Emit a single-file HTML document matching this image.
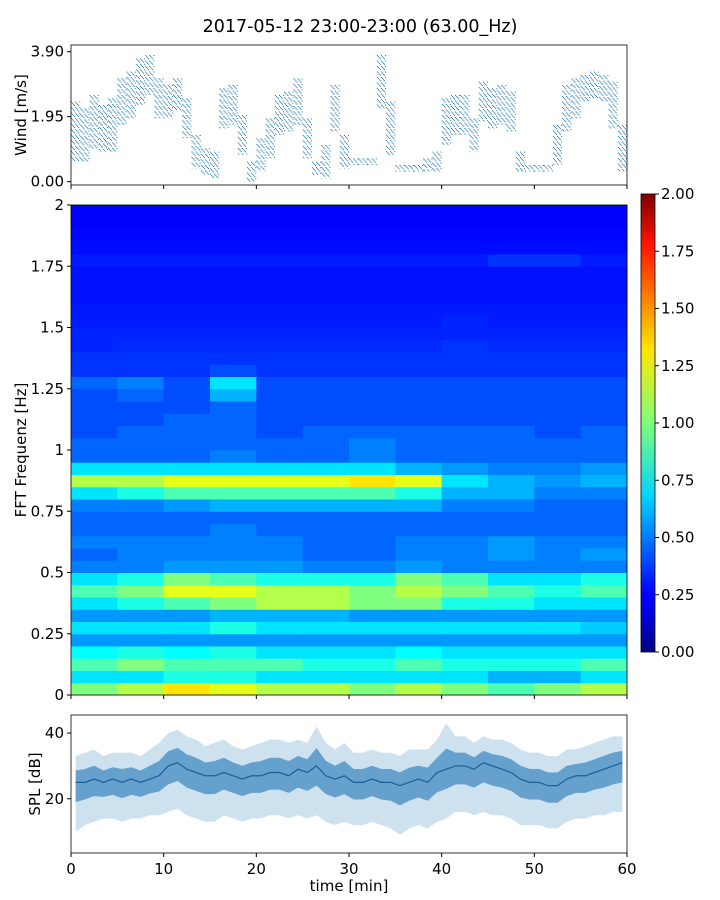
<!DOCTYPE html>
<html><head><meta charset="utf-8">
<style>
html,body{margin:0;padding:0;background:#fff;}
svg{display:block;font-family:"DejaVu Sans","Liberation Sans",sans-serif;}
</style></head>
<body>
<svg id="fig" width="720" height="900" viewBox="0 0 720 900">
<defs>
<linearGradient id="jetGrad" x1="0" y1="1" x2="0" y2="0">
<stop offset="0" stop-color="#000080"/><stop offset="0.11" stop-color="#0000ff"/>
<stop offset="0.125" stop-color="#0000ff"/><stop offset="0.34" stop-color="#00d4ff"/>
<stop offset="0.5" stop-color="#7dff7a"/><stop offset="0.66" stop-color="#ffe600"/>
<stop offset="0.89" stop-color="#ff1300"/><stop offset="1" stop-color="#800000"/>
</linearGradient>
<clipPath id="clipW"><rect x="71" y="45" width="556" height="140"/></clipPath>
<clipPath id="clipS"><rect x="71" y="715" width="556" height="138"/></clipPath>
</defs>
<text x="360" y="32" text-anchor="middle" font-size="17.5">2017-05-12 23:00-23:00 (63.00_Hz)</text>
<g id="wind"></g>
<g id="spec"></g>
<g id="cbar"></g>
<g id="spl"></g>
</svg>
<script>
// ---- data ----
const windMinutes = [0,1,2,3,4,5,6,7,8,9,10,11,12,13,14,15,16,17,18,19,20,21,22,23,24,25,26,27,28,29,30,31,32,33,34,35,36,37,38,39,40,41,42,43,44,45,46,47,48,49,50,51,52,53,54,55,56,57,58,59];
const windCenter = [1.5,1.4,1.8,1.6,1.7,2.4,2.6,3.0,3.2,2.5,2.4,2.6,1.9,0.9,0.6,0.5,2.2,2.3,1.4,0.3,0.8,1.3,2.0,2.1,2.4,1.3,0.4,0.6,2.2,0.9,0.6,0.6,0.6,3.0,1.6,0.4,0.4,0.4,0.5,0.6,1.8,2.0,2.0,1.4,2.4,2.2,2.3,2.1,0.6,0.4,0.4,0.4,1.1,2.2,2.5,2.8,2.9,2.8,2.3,1.0];
const windSpread = [0.9,0.8,0.8,0.7,0.8,0.7,0.7,0.7,0.6,0.6,0.5,0.5,0.6,0.5,0.4,0.4,0.6,0.6,0.6,0.3,0.5,0.6,0.6,0.6,0.7,0.6,0.2,0.5,0.7,0.5,0.1,0.1,0.1,0.8,0.8,0.1,0.1,0.1,0.2,0.3,0.7,0.6,0.6,0.5,0.6,0.6,0.6,0.6,0.3,0.1,0.1,0.1,0.6,0.7,0.6,0.4,0.4,0.4,0.7,0.7];
const windTicks = [0.00,1.95,3.90];

const freqBins = [0,0.05,0.1,0.15,0.2,0.25,0.3,0.35,0.4,0.45,0.5,0.55,0.6,0.65,0.7,0.75,0.8,0.85,0.9,0.95,1.0,1.05,1.1,1.15,1.2,1.25,1.3,1.35,1.4,1.45,1.5,1.55,1.6,1.65,1.7,1.75,1.8,1.85,1.9,1.95];
const timeBins = [0,5,10,15,20,25,30,35,40,45,50,55];
const specValues = [
[1.0,1.1,1.3,1.2,1.1,1.1,1.0,1.1,1.0,0.9,1.0,1.1],
[0.7,0.7,0.8,0.8,0.7,0.7,0.7,0.7,0.7,0.6,0.6,0.7],
[0.9,1.0,0.9,0.9,0.9,0.8,0.8,0.9,0.8,0.8,0.8,0.9],
[0.75,0.8,0.75,0.8,0.7,0.7,0.7,0.75,0.7,0.7,0.7,0.7],
[0.55,0.55,0.55,0.55,0.55,0.55,0.55,0.55,0.55,0.55,0.55,0.55],
[0.7,0.7,0.7,0.8,0.7,0.7,0.7,0.7,0.7,0.7,0.7,0.65],
[0.55,0.55,0.55,0.6,0.6,0.6,0.55,0.55,0.55,0.55,0.55,0.55],
[0.7,0.8,0.9,1.0,1.1,1.1,1.0,1.0,0.8,0.8,0.7,0.7],
[0.9,1.0,1.2,1.2,1.1,1.1,1.0,1.1,1.0,0.9,0.8,0.9],
[0.7,0.8,1.0,0.9,0.8,0.8,0.8,1.0,0.9,0.7,0.7,0.8],
[0.5,0.5,0.55,0.55,0.55,0.5,0.5,0.55,0.5,0.5,0.5,0.5],
[0.45,0.5,0.5,0.5,0.5,0.45,0.45,0.5,0.5,0.55,0.5,0.55],
[0.5,0.5,0.5,0.5,0.5,0.45,0.45,0.5,0.5,0.55,0.5,0.5],
[0.45,0.45,0.45,0.5,0.45,0.45,0.45,0.45,0.45,0.45,0.45,0.45],
[0.45,0.45,0.45,0.45,0.45,0.45,0.45,0.45,0.45,0.45,0.45,0.45],
[0.5,0.5,0.55,0.6,0.6,0.6,0.6,0.6,0.5,0.5,0.45,0.45],
[0.7,0.8,0.9,0.9,0.9,0.9,0.9,0.8,0.6,0.6,0.5,0.5],
[1.1,1.1,1.2,1.2,1.2,1.2,1.3,1.2,0.7,0.6,0.55,0.6],
[0.7,0.7,0.7,0.7,0.7,0.7,0.7,0.6,0.55,0.5,0.5,0.55],
[0.45,0.45,0.45,0.5,0.45,0.45,0.5,0.45,0.45,0.45,0.45,0.45],
[0.45,0.45,0.45,0.45,0.45,0.45,0.5,0.45,0.45,0.45,0.45,0.45],
[0.4,0.45,0.45,0.45,0.4,0.45,0.45,0.45,0.45,0.45,0.4,0.45],
[0.4,0.4,0.45,0.45,0.4,0.4,0.4,0.4,0.4,0.4,0.4,0.4],
[0.4,0.4,0.4,0.45,0.4,0.4,0.4,0.4,0.4,0.4,0.4,0.4],
[0.4,0.45,0.4,0.6,0.4,0.4,0.4,0.4,0.4,0.4,0.4,0.4],
[0.45,0.5,0.4,0.7,0.4,0.4,0.4,0.4,0.4,0.4,0.4,0.4],
[0.35,0.35,0.35,0.4,0.35,0.35,0.35,0.35,0.35,0.35,0.35,0.35],
[0.35,0.35,0.35,0.35,0.35,0.35,0.35,0.35,0.35,0.35,0.35,0.35],
[0.32,0.33,0.33,0.33,0.33,0.33,0.33,0.33,0.35,0.33,0.33,0.33],
[0.32,0.32,0.32,0.32,0.32,0.32,0.32,0.32,0.32,0.32,0.32,0.32],
[0.3,0.3,0.3,0.3,0.3,0.3,0.3,0.3,0.32,0.3,0.3,0.3],
[0.3,0.3,0.3,0.3,0.3,0.3,0.3,0.3,0.3,0.3,0.3,0.3],
[0.28,0.28,0.28,0.28,0.28,0.28,0.28,0.28,0.28,0.28,0.28,0.28],
[0.28,0.28,0.28,0.28,0.28,0.28,0.28,0.28,0.28,0.28,0.28,0.28],
[0.28,0.28,0.28,0.28,0.28,0.28,0.28,0.28,0.28,0.28,0.28,0.28],
[0.3,0.3,0.3,0.3,0.3,0.3,0.3,0.3,0.3,0.35,0.35,0.3],
[0.27,0.27,0.27,0.27,0.27,0.27,0.27,0.27,0.27,0.27,0.27,0.27],
[0.26,0.26,0.26,0.26,0.26,0.26,0.26,0.26,0.26,0.26,0.26,0.26],
[0.25,0.25,0.25,0.25,0.25,0.25,0.25,0.25,0.25,0.25,0.25,0.25],
[0.25,0.25,0.25,0.25,0.25,0.25,0.25,0.25,0.25,0.25,0.25,0.25]
];
const freqTickLabels = ["0","0.25","0.5","0.75","1","1.25","1.5","1.75","2"];
const cbarTickLabels = ["0.00","0.25","0.50","0.75","1.00","1.25","1.50","1.75","2.00"];

const splMinutes = windMinutes;
const splMid  = [25,25,26,25,26,25,26,25,26,27,30,31,29,28,27,27,28,27,26,27,27,28,28,27,29,28,30,27,26,27,25,25,26,25,25,24,25,26,25,28,29,30,30,29,31,30,29,28,26,25,25,24,24,26,27,27,28,29,30,31];
const splLow  = [10,12,13,14,14,13,14,14,15,15,16,17,15,14,13,13,15,14,13,14,14,15,15,14,15,14,15,13,12,13,12,12,13,12,11,9,11,12,11,13,14,16,16,15,16,15,15,14,12,12,12,11,11,13,14,14,15,15,16,16];
const splHigh = [33,34,35,33,34,34,34,33,35,37,40,41,39,38,36,37,38,36,35,36,37,38,38,37,38,37,42,37,35,37,34,34,35,34,34,33,35,35,35,38,43,39,39,37,39,38,38,37,35,34,34,33,33,35,35,36,37,38,39,39];
const splTicks = [20,40];
const timeTicks = [0,10,20,30,40,50,60];

// ---- helpers ----
const NS = "http://www.w3.org/2000/svg";
function mk(parent, tag, attrs, txt){const e=document.createElementNS(NS,tag);for(const k in attrs)e.setAttribute(k,attrs[k]);if(txt!==undefined)e.textContent=txt;parent.appendChild(e);return e;}
const X0=71, X1=627;
const FS=15;
const xT = t => X0 + (t/60)*(X1-X0);
function jet(v){
  let t=Math.max(0,Math.min(1,v/2));
  const f=x=>Math.max(0,Math.min(1,x));
  const r=f(1.5-Math.abs(4*t-3)), g=f(1.5-Math.abs(4*t-2)), b=f(1.5-Math.abs(4*t-1));
  return `rgb(${Math.round(r*255)},${Math.round(g*255)},${Math.round(b*255)})`;
}
function frame(g,x,y,w,h,name){const r=mk(g,'rect',{x:x,y:y,width:w,height:h,fill:'none',stroke:'#000','stroke-width':0.8});}

// ---- wind panel ----
const gw=document.getElementById('wind');
const WY0=185, WY1=45, wMin=-0.1, wMax=4.1;
const yW = v => WY0 - (v-wMin)/(wMax-wMin)*(WY0-WY1);
const gwp=mk(gw,'g',{'clip-path':'url(#clipW)'});
windMinutes.forEach((m,i)=>{
  for(let k=0;k<9;k++){
    const x=xT(m+(k+0.5)/9);
    const off=(k%4)*1.1;
    const ln=mk(gwp,'line',{x1:x,x2:x,y1:yW(windCenter[i]+windSpread[i])+off,y2:yW(windCenter[i]-windSpread[i]),stroke:'#1f77b4','stroke-width':1,'stroke-dasharray':'1 4.5'});
    
    
  }
});
frame(gw,X0,WY1,X1-X0,WY0-WY1,'wind-axes-frame');
windTicks.forEach(v=>{
  mk(gw,'line',{x1:X0-4,x2:X0,y1:yW(v),y2:yW(v),stroke:'#000'});
  const t=mk(gw,'text',{x:X0-7,y:yW(v)+5,'text-anchor':'end','font-size':FS},v.toFixed(2));
  
  
});
timeTicks.forEach(v=>mk(gw,'line',{x1:xT(v),x2:xT(v),y1:WY0,y2:WY0+4,stroke:'#000'}));
const wl=mk(gw,'text',{x:0,y:0,transform:'translate(26,115) rotate(-90)','text-anchor':'middle','font-size':FS},'Wind [m/s]');



// ---- spectrogram ----
const gs=document.getElementById('spec');
const SY0=695, SY1=205;
const yF = f => SY0 - (f/2)*(SY0-SY1);
specValues.forEach((row,ri)=>{
  row.forEach((v,ci)=>{
    const xa=xT(timeBins[ci]), xb=ci+1<timeBins.length?xT(timeBins[ci+1]):X1;
    const fa=freqBins[ri], fb=ri+1<freqBins.length?freqBins[ri+1]:2;
    const c=mk(gs,'rect',{x:xa,y:yF(fb),width:xb-xa+0.5,height:yF(fa)-yF(fb)+0.5,fill:jet(v)});
    
    
  });
});
frame(gs,X0,SY1,X1-X0,SY0-SY1,'spectrogram-axes-frame');
freqTickLabels.forEach((lab,i)=>{
  const y=yF(i*0.25);
  mk(gs,'line',{x1:X0-4,x2:X0,y1:y,y2:y,stroke:'#000'});
  const t=mk(gs,'text',{x:X0-7,y:y+5,'text-anchor':'end','font-size':FS},lab);
  
  
});
timeTicks.forEach(v=>mk(gs,'line',{x1:xT(v),x2:xT(v),y1:SY0,y2:SY0+4,stroke:'#000'}));
const sl=mk(gs,'text',{x:0,y:0,transform:'translate(26,450) rotate(-90)','text-anchor':'middle','font-size':FS},'FFT Frequenz [Hz]');



// ---- colorbar ----
const gc=document.getElementById('cbar');
const CY0=652, CY1=194, CX=641, CW=14;
mk(gc,'rect',{x:CX,y:CY1,width:CW,height:CY0-CY1,fill:'url(#jetGrad)',stroke:'#000','stroke-width':0.8});
cbarTickLabels.forEach((lab,i)=>{
  const y=CY0-(i/8)*(CY0-CY1);
  mk(gc,'line',{x1:CX+CW,x2:CX+CW+4,y1:y,y2:y,stroke:'#000'});
  const t=mk(gc,'text',{x:CX+CW+6,y:y+5,'font-size':FS},lab);
  
  
});

// ---- SPL panel ----
const gp=document.getElementById('spl');
const PY0=853, PY1=715, pMin=3.5, pMax=45.5;
const yP = v => PY0 - (v-pMin)/(pMax-pMin)*(PY0-PY1);
const gpp=mk(gp,'g',{'clip-path':'url(#clipS)'});
function bandPath(hiFn,loFn){
  let a='',b='';
  splMinutes.forEach((m,i)=>{a+=(i?'L':'M')+xT(m+0.5)+','+yP(hiFn(i));});
  for(let i=splMinutes.length-1;i>=0;i--){b+='L'+xT(splMinutes[i]+0.5)+','+yP(loFn(i));}
  return a+b+'Z';
}
const band=mk(gpp,'path',{d:bandPath(i=>splHigh[i],i=>splLow[i]),fill:'#1f77b4','fill-opacity':0.22});


const inner=mk(gpp,'path',{d:bandPath(i=>splMid[i]+(splHigh[i]-splMid[i])*0.45,i=>splMid[i]-(splMid[i]-splLow[i])*0.4),fill:'#1f77b4','fill-opacity':0.6});


let midPath='';
splMinutes.forEach((m,i)=>{midPath+=(i?'L':'M')+xT(m+0.5)+','+yP(splMid[i]);});
const mid=mk(gpp,'path',{d:midPath,fill:'none',stroke:'#1a5f95','stroke-width':1.2});


frame(gp,X0,PY1,X1-X0,PY0-PY1,'spl-axes-frame');
splTicks.forEach(v=>{
  mk(gp,'line',{x1:X0-4,x2:X0,y1:yP(v),y2:yP(v),stroke:'#000'});
  const t=mk(gp,'text',{x:X0-7,y:yP(v)+5,'text-anchor':'end','font-size':FS},String(v));
  
  
});
timeTicks.forEach(v=>{
  mk(gp,'line',{x1:xT(v),x2:xT(v),y1:PY0,y2:PY0+4,stroke:'#000'});
  const t=mk(gp,'text',{x:xT(v),y:PY0+21,'text-anchor':'middle','font-size':FS},String(v));
  
  
});
const pl=mk(gp,'text',{x:0,y:0,transform:'translate(40,784) rotate(-90)','text-anchor':'middle','font-size':FS},'SPL [dB]');


const xl=mk(gp,'text',{x:349,y:891,'text-anchor':'middle','font-size':FS},'time [min]');


</script>
</body></html>
